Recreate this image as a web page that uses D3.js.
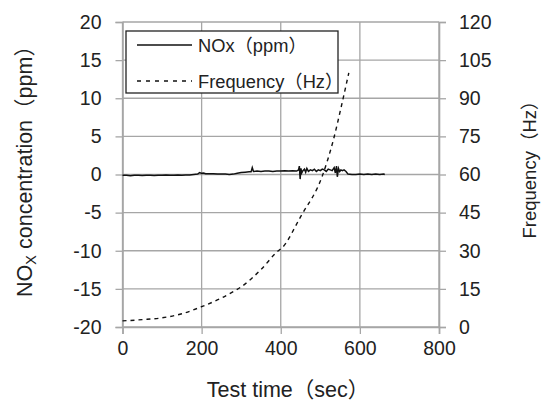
<!DOCTYPE html>
<html><head><meta charset="utf-8">
<script src="https://cdn.jsdelivr.net/npm/d3@7"></script>
<style>
html,body{margin:0;padding:0;background:#fff;}
text{font-family:"Liberation Sans","Noto Sans CJK JP",Arial,sans-serif;fill:#222;}
</style></head>
<body>
<svg id="c" width="548" height="401"></svg>
<script>
// ---- data ----
const xTicks = [0, 200, 400, 600, 800];
const yLeftTicks = [-20, -15, -10, -5, 0, 5, 10, 15, 20];
const yRightTicks = [0, 15, 30, 45, 60, 75, 90, 105, 120];

const freqTime = [0, 50, 100, 150, 200, 250, 284, 300, 350, 393, 403, 450, 456, 504, 533, 555, 572];
const freqHz   = [2.4, 2.9, 3.6, 5.2, 8.0, 11.4, 14.3, 15.8, 22.6, 29.9, 31.1, 43.3, 44.9, 59.0, 73.6, 88.1, 100];

const noxTime = [0,10,20,30,40,50,60,70,80,90,100,110,120,130,140,150,160,170,180,190,195,200,205,210,220,230,240,250,260,270,280,290,300,310,320,325,328,331,340,350,360,370,380,390,400,410,420,430,440,445,447,449,451,453,456,460,463,466,470,475,480,485,490,495,500,505,510,515,520,525,530,535,538,541,543,546,549,552,556,560,565,570,580,590,600,610,620,630,640,650,660,663];
const noxPpm  = [-0.1,-0.1,-0.15,-0.1,-0.1,-0.12,-0.1,-0.1,-0.12,-0.1,-0.1,-0.08,-0.1,-0.1,-0.08,-0.1,-0.05,-0.05,0,0.05,0.25,0.15,0.2,0.1,0.1,0.1,0.05,0.05,0.05,0.0,0.05,0.15,0.25,0.3,0.35,0.35,0.9,0.4,0.45,0.4,0.45,0.45,0.4,0.45,0.45,0.5,0.45,0.5,0.45,0.6,1.1,-0.6,0.8,0.2,0.5,0.7,0.3,0.8,0.4,0.6,0.5,0.7,0.4,0.6,0.5,0.7,0.6,0.4,0.7,0.6,0.5,0.9,0.2,1.1,-0.3,0.8,0.4,0.6,0.5,0.6,0.4,0.05,0.0,0.0,0.05,0.0,0.05,0.0,0.05,0.0,0.05,0];

const legendLabels = ["NOx（ppm）", "Frequency（Hz）"];

// ---- layout ----
const L = 122.5, R = 439, T = 22, B = 327;
const svg = d3.select("#c");
const x = d3.scaleLinear().domain([0, 800]).range([L, R]);
const yL = d3.scaleLinear().domain([-20, 20]).range([B, T]);
const yR = d3.scaleLinear().domain([0, 120]).range([B, T]);
const grid = "#a6a6a6";
const fmt = d => String(d);

// gridlines
svg.append("g").selectAll("line").data(yLeftTicks).join("line")
  .attr("x1", L).attr("x2", R).attr("y1", d => yL(d)).attr("y2", d => yL(d))
  .attr("stroke", grid).attr("stroke-width", 1.3);
svg.append("g").selectAll("line").data(xTicks).join("line")
  .attr("x1", d => x(d)).attr("x2", d => x(d)).attr("y1", T).attr("y2", B)
  .attr("stroke", grid).attr("stroke-width", 1.3);

// axes
function styleAxis(g) {
  g.attr("font-family", null).attr("font-size", null);
  g.select(".domain").attr("stroke", grid).attr("stroke-width", 1.6);
  g.selectAll(".tick line").attr("stroke", grid).attr("stroke-width", 1.3);
  g.selectAll(".tick text").attr("font-size", 19.5).attr("fill", "#222");
}
svg.append("g").attr("transform", `translate(${L},0)`)
  .call(d3.axisLeft(yL).tickValues(yLeftTicks).tickSizeOuter(0).tickSize(7).tickPadding(14).tickFormat(fmt))
  .call(styleAxis);
svg.append("g").attr("transform", `translate(${R},0)`)
  .call(d3.axisRight(yR).tickValues(yRightTicks).tickSizeOuter(0).tickSize(7).tickPadding(13).tickFormat(fmt))
  .call(styleAxis);
svg.append("g").attr("transform", `translate(0,${B})`)
  .call(d3.axisBottom(x).tickValues(xTicks).tickSizeOuter(0).tickSize(7).tickPadding(7).tickFormat(fmt))
  .call(styleAxis);

// series
const noxData = noxTime.map((t, i) => [t, noxPpm[i]]);
const freqData = freqTime.map((t, i) => [t, freqHz[i]]);
svg.append("path").datum(noxData)
  .attr("d", d3.line().x(d => x(d[0])).y(d => yL(d[1])))
  .attr("fill", "none").attr("stroke", "#111").attr("stroke-width", 1.5);
svg.append("path").datum(freqData)
  .attr("d", d3.line().curve(d3.curveMonotoneX).x(d => x(d[0])).y(d => yR(d[1])))
  .attr("fill", "none").attr("stroke", "#111").attr("stroke-width", 1.4).attr("stroke-dasharray", "4,4");

// legend
const lg = svg.append("g");
lg.append("rect").attr("x", 126).attr("y", 31).attr("width", 212).attr("height", 62)
  .attr("fill", "#fff").attr("stroke", "#222").attr("stroke-width", 1.3);
const rows = [45, 81];
legendLabels.forEach((lab, i) => {
  lg.append("line").attr("x1", 137).attr("x2", 192).attr("y1", rows[i]).attr("y2", rows[i])
    .attr("stroke", "#111").attr("stroke-width", 1.3)
    .attr("stroke-dasharray", i === 1 ? "4,5" : null);
  lg.append("text").attr("x", 198).attr("y", rows[i] + 7).attr("font-size", 18.3).text(lab);
});

// axis titles
svg.append("text").attr("x", 288).attr("y", 397).attr("text-anchor", "middle")
  .attr("font-size", 21.5).text("Test time（sec）");
const lt = svg.append("text").attr("transform", "translate(32,166) rotate(-90)")
  .attr("text-anchor", "middle").attr("font-size", 21.5);
lt.append("tspan").text("NO");
lt.append("tspan").attr("font-size", 14.5).attr("dy", 4).text("X");
lt.append("tspan").attr("dy", -4).text(" concentration（ppm）");
svg.append("text").attr("transform", "translate(536,165) rotate(-90)")
  .attr("text-anchor", "middle").attr("font-size", 18.5).text("Frequency（Hz）");
</script>
</body></html>
